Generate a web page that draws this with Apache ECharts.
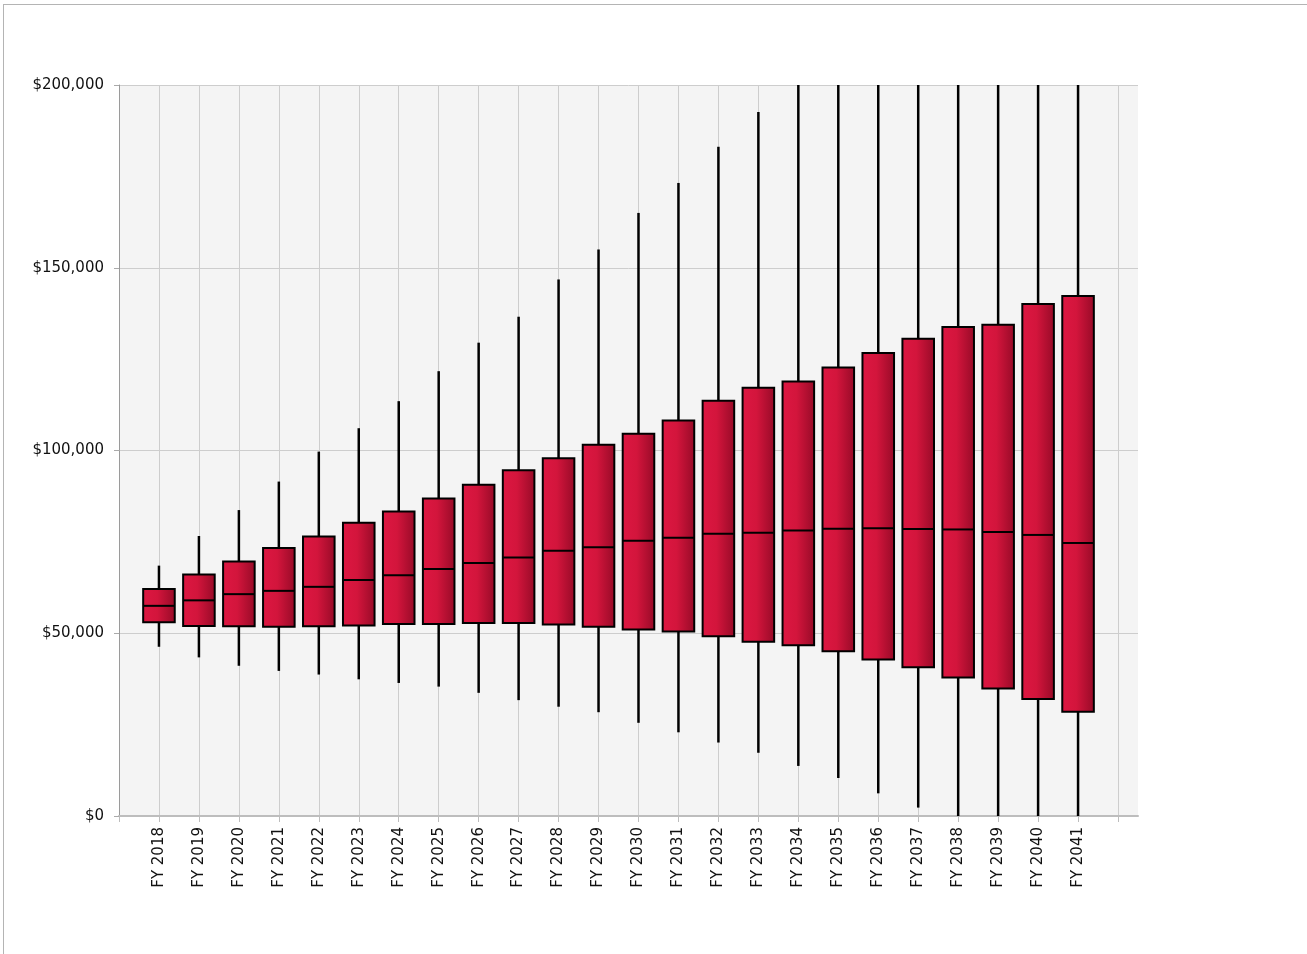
<!DOCTYPE html>
<html>
<head>
<meta charset="utf-8">
<script src="https://cdn.jsdelivr.net/npm/echarts@6/dist/echarts.min.js"></script>
<style>
html,body{margin:0;padding:0;background:#fff;overflow:hidden;}
#chart{position:absolute;left:0;top:0;width:1307px;height:954px;}
#frame{position:absolute;left:3px;top:4px;width:1400px;height:1000px;border:1px solid #b4b4b4;pointer-events:none;}
</style>
</head>
<body>
<div id="chart"></div>
<div id="frame"></div>
<script>
// ---- data ----
const categories = ['FY 2018','FY 2019','FY 2020','FY 2021','FY 2022','FY 2023','FY 2024','FY 2025',
  'FY 2026','FY 2027','FY 2028','FY 2029','FY 2030','FY 2031','FY 2032','FY 2033','FY 2034','FY 2035',
  'FY 2036','FY 2037','FY 2038','FY 2039','FY 2040','FY 2041'];
const whiskerLow  = [46300, 43400, 41100, 39700, 38700, 37400, 36400, 35400, 33700, 31700, 29900, 28400,
  25500, 22900, 20100, 17300, 13700, 10400, 6200, 2300, -1500, -5500, -9500, -13500];
const q1          = [53000, 52000, 51900, 51800, 51900, 52100, 52500, 52500, 52800, 52800, 52400, 51800,
  51000, 50500, 49200, 47700, 46700, 45100, 42800, 40700, 37900, 34900, 32000, 28500];
const median      = [57500, 59000, 60700, 61600, 62700, 64600, 65900, 67600, 69200, 70700, 72600, 73500,
  75300, 76100, 77200, 77500, 78100, 78600, 78700, 78500, 78400, 77700, 76900, 74700];
const q3          = [62100, 66100, 69600, 73300, 76500, 80200, 83300, 86900, 90600, 94600, 97900, 101600,
  104600, 108200, 113600, 117200, 118900, 122700, 126700, 130600, 133800, 134400, 140100, 142300];
const whiskerHigh = [68500, 76600, 83700, 91500, 99700, 106100, 113500, 121700, 129500, 136600, 146800, 155000,
  165000, 173200, 183100, 192600, 202000, 212000, 222000, 231000, 240000, 249000, 259000, 268000];
const yTicks = [0, 50000, 100000, 150000, 200000];

// ---- build series data ----
const boxData = categories.map((c, i) => [i + 1, whiskerLow[i], q1[i], median[i], q3[i], whiskerHigh[i]]);
const xTickValues = [];
for (let i = 0; i <= categories.length + 1; i++) xTickValues.push(i);
const xLabelValues = categories.map((c, i) => i + 1);

const boxFill = new echarts.graphic.LinearGradient(0, 0, 1, 0, [
  {offset: 0, color: '#dd1742'},
  {offset: 0.45, color: '#d3153c'},
  {offset: 1, color: '#960a27'}
]);

function renderBox(params, api) {
  const x = api.value(0);
  const pLow = api.coord([x, api.value(1)]);
  const pQ1 = api.coord([x, api.value(2)]);
  const pMed = api.coord([x, api.value(3)]);
  const pQ3 = api.coord([x, api.value(4)]);
  const pHigh = api.coord([x, api.value(5)]);
  const w = api.size([0.79, 0])[0];
  const cx = pQ1[0];
  const line = {stroke: '#000', lineWidth: 2.5};
  return {
    type: 'group',
    children: [
      {type: 'line', shape: {x1: cx, y1: pQ3[1], x2: cx, y2: pHigh[1]}, style: line},
      {type: 'line', shape: {x1: cx, y1: pQ1[1], x2: cx, y2: pLow[1]}, style: line},
      {type: 'rect', shape: {x: cx - w / 2, y: pQ3[1], width: w, height: pQ1[1] - pQ3[1]},
        style: {fill: boxFill, stroke: '#000', lineWidth: 2}},
      {type: 'line', shape: {x1: cx - w / 2, y1: pMed[1], x2: cx + w / 2, y2: pMed[1]},
        style: {stroke: '#000', lineWidth: 2}}
    ]
  };
}

const chart = echarts.init(document.getElementById('chart'), null, {renderer: 'canvas'});
chart.setOption({
  animation: false,
  backgroundColor: '#ffffff',
  grid: {left: 119, top: 85, right: 169, bottom: 138, show: true, backgroundColor: '#f4f4f4', borderWidth: 0},
  xAxis: {
    type: 'value', min: 0, max: categories.length + 1.5, interval: 1,
    axisLine: {show: true, onZero: false, lineStyle: {color: '#bdbdbd', width: 2}},
    axisTick: {show: true, length: 6, customValues: xTickValues, lineStyle: {color: '#bdbdbd', width: 1}},
    splitLine: {show: true, lineStyle: {color: '#cdcdcd', width: 1}},
    axisLabel: {
      customValues: xLabelValues, rotate: 90, margin: 11,
      fontFamily: 'DejaVu Sans', fontSize: 15, color: '#111',
      formatter: v => categories[Math.round(v) - 1] || ''
    }
  },
  yAxis: {
    type: 'value', min: yTicks[0], max: yTicks[yTicks.length - 1], interval: 50000,
    axisLine: {show: true, lineStyle: {color: '#9a9a9a', width: 1}},
    axisTick: {show: true, length: 5, lineStyle: {color: '#aaaaaa'}},
    splitLine: {show: true, lineStyle: {color: '#cdcdcd', width: 1}},
    axisLabel: {
      margin: 15, fontFamily: 'DejaVu Sans', fontSize: 15, color: '#111',
      formatter: v => '$' + v.toLocaleString('en-US')
    }
  },
  series: [{
    type: 'custom',
    clip: true,
    renderItem: renderBox,
    encode: {x: 0, y: [1, 2, 3, 4, 5]},
    data: boxData
  }]
});
</script>
</body>
</html>
